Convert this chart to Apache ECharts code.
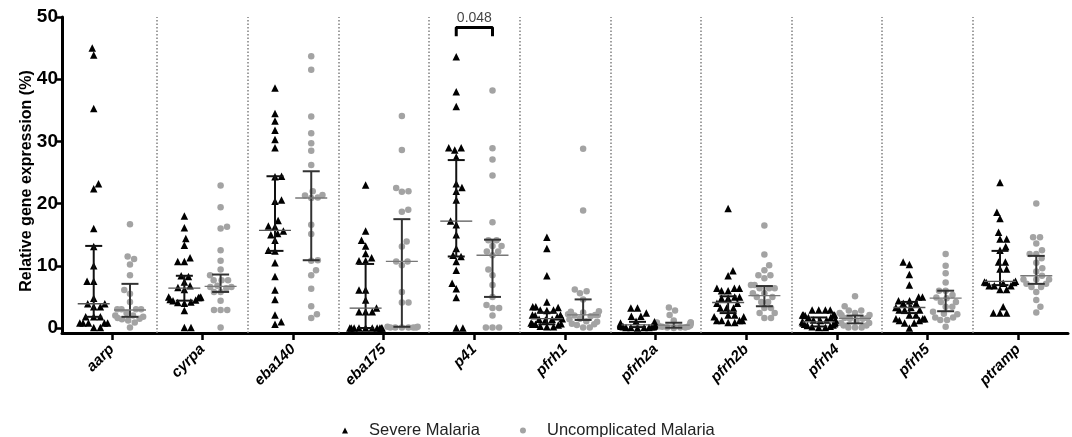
<!DOCTYPE html>
<html><head><meta charset="utf-8">
<script src="https://cdn.jsdelivr.net/npm/echarts@6/dist/echarts.min.js"></script>
<style>html,body{margin:0;padding:0;background:#fff}#c{width:1072px;height:437px}</style>
</head><body><div id="c"></div>
<script>
const genes = ['aarp','cyrpa','eba140','eba175','p41','pfrh1','pfrh2a','pfrh2b','pfrh4','pfrh5','ptramp'];
const yTicks = [0,10,20,30,40,50];

const severeValues = [
 [45.0,43.9,35.3,23.2,22.4,16.0,13.1,10.0,7.5,7.5,4.8,3.9,3.9,3.4,3.4,1.8,1.8,1.8,0.8,0.8,0.8,0.8,0.8,0.1,0.1],
 [18.0,16.1,14.4,13.3,11.3,10.7,10.7,8.4,8.3,7.4,6.8,6.5,6.2,5.0,5.0,4.9,4.9,4.6,4.5,4.4,4.2,4.1,4.0,2.8,0.1,0.1],
 [38.6,34.5,33.3,31.8,30.3,29.0,24.4,24.3,20.6,20.4,17.3,16.4,16.3,15.6,15.2,15.0,14.1,12.5,12.4,10.5,8.3,6.1,4.6,2.1,1.0,0.6],
 [23.0,15.6,14.1,13.2,12.0,11.3,10.8,10.8,6.1,6.1,4.5,3.2,2.6,2.6,2.6,0,0,0,0,0,0,0,0,0,0],
 [43.6,38.0,35.6,29.0,29.0,28.6,27.5,23.2,22.6,22.0,20.6,17.2,16.6,15.0,12.8,11.7,11.5,10.7,9.3,7.2,6.3,4.9,0,0],
 [14.6,12.8,8.4,4.2,3.4,3.4,3.3,2.9,2.9,2.8,2.1,2.1,2.0,1.8,1.5,1.4,1.4,1.3,0.8,0.7,0.6,0.6,0.5,0.3,0.2,0.2],
 [3.2,3.2,2.4,1.9,1.9,1.1,1.0,0.8,0.7,0.6,0.6,0.5,0.5,0.4,0.4,0.3,0.3,0.3,0.2,0.2,0.2,0.1,0.1,0.1,0.1,0.0],
 [19.2,9.2,8.4,6.4,6.4,6.4,6.0,6.0,5.0,5.0,4.8,4.8,4.0,4.0,3.2,3.2,3.2,2.1,2.1,1.8,1.8,1.2,1.2,1.2,1.2,0.9,0.9],
 [2.9,2.9,2.9,2.9,2.1,2.1,2.1,2.1,2.0,1.7,1.7,1.3,1.3,1.3,1.2,1.0,0.9,0.8,0.7,0.6,0.5,0.4,0.3,0.2,0.1,0.1],
 [10.6,10.2,8.6,6.9,5.0,5.0,4.4,4.4,4.0,4.0,3.3,3.3,2.9,2.9,2.9,2.1,2.1,1.5,1.5,1.5,1.2,1.2,0.8,0.8,0.0],
 [23.4,18.6,17.6,15.4,14.3,14.3,13.1,12.5,10.6,10.6,9.5,9.5,7.5,7.4,7.3,7.3,7.2,6.8,6.8,6.8,6.2,6.2,3.4,2.4,2.4,2.4]
];
const uncompValues = [
 [16.7,11.5,11.1,10.2,8.5,6.1,5.5,4.2,3.0,3.0,3.0,3.0,2.4,2.0,2.0,1.8,1.6,1.5,1.4,1.2,0.9,0.1],
 [22.9,19.4,16.3,16.0,12.5,10.8,9.4,8.5,7.7,7.7,7.7,6.8,6.6,6.6,6.4,5.8,5.8,4.4,2.9,2.9,2.9,0.1],
 [43.7,41.5,34.0,31.3,29.7,28.5,26.2,22.0,21.4,21.3,21.0,20.9,16.6,15.1,10.9,10.8,9.3,8.5,6.3,3.5,2.2,1.6],
 [34.1,28.6,22.5,22.0,21.9,19.0,18.7,13.9,13.1,10.7,10.7,10.1,5.8,4.1,4.1,0.2,0.1,0.1,0.1,0.1,0.1,0.1,0.2],
 [38.2,28.9,27.1,24.5,17.0,14.1,14.1,13.2,13.2,12.3,12.3,11.7,9.4,8.5,6.9,5.0,3.7,3.2,3.2,2.0,0.1,0.1,0.1],
 [28.8,18.9,6.2,5.9,5.6,4.6,2.7,2.6,2.5,2.2,2.1,2.1,2.0,1.9,1.5,1.4,1.1,1.0,0.7,0.6,0.5,0.1,0.1],
 [3.3,2.8,2.1,1.2,0.9,0.9,0.9,0.8,0.6,0.5,0.5,0.4,0.4,0.3,0.3,0.2,0.2,0.1,0.1,0.1,0.0],
 [16.5,11.8,10.1,9.3,8.5,8.5,8.0,6.9,6.9,6.4,6.4,6.4,5.6,5.6,5.0,5.0,4.2,4.2,3.2,3.2,2.4,2.4,1.6,1.6],
 [5.1,3.5,2.8,2.8,2.4,2.4,2.1,2.1,1.6,1.6,1.5,1.5,1.2,0.8,0.8,0.4,0.4,0.1,0.1,0.1],
 [11.9,10.0,8.8,7.3,6.0,6.0,5.3,4.9,4.8,4.2,4.2,3.4,3.4,2.6,2.3,2.2,1.7,1.7,1.3,1.3,0.2],
 [20.0,14.6,14.6,13.6,12.5,11.9,11.9,11.2,10.5,9.6,9.1,8.4,7.8,7.8,7.8,7.1,7.1,6.6,6.6,5.8,4.5,3.4,2.5]
];

const severeMedian = [3.9,6.4,15.7,3.2,17.2,1.5,0.5,4.1,1.0,3.3,7.5];
const severeQ1     = [1.8,4.4,12.4,0.0,11.5,0.6,0.15,2.4,0.25,2.4,6.9];
const severeQ3     = [13.2,8.4,24.4,10.3,27.0,2.5,1.0,5.1,1.7,4.2,12.4];
const uncompMedian = [2.9,6.7,20.9,10.7,11.7,2.1,0.45,5.2,1.55,4.8,8.4];
const uncompQ1     = [1.8,5.8,10.9,0.2,5.0,1.3,0.05,3.5,0.75,2.7,7.1];
const uncompQ3     = [7.1,8.6,25.2,17.5,14.2,4.6,0.85,6.75,2.0,6.0,11.6];

const pValueLabel = '0.048';
const pValueGene = 'p41';

// ---------- layout ----------
const W = 1072, H = 437;
const gridL = 62, gridR = 4, gridT = 17, gridB = 104;
const xMin = -0.55, xMax = 10.55, yMin = -0.8, yMax = 50;
const pxX = (W - gridL - gridR) / (xMax - xMin);
const pxY = (H - gridT - gridB) / (yMax - yMin);
const groupOff = 0.2;
const font = '"Liberation Sans", Arial, Helvetica, sans-serif';

function swarm(vals, d, maxHalf) {
  const idx = vals.map((v, i) => i).sort((a, b) => vals[a] - vals[b]);
  const placed = [], out = new Array(vals.length).fill(0);
  let flip = 1;
  idx.forEach(i => {
    const y = vals[i] * pxY;
    const near = placed.filter(p => Math.abs(p.y - y) < d);
    const cands = [0];
    near.forEach(p => { const dx = Math.sqrt(d * d - (p.y - y) ** 2); cands.push(p.x + dx, p.x - dx); });
    const ok = cands.filter(c => near.every(p => (p.x - c) ** 2 + (p.y - y) ** 2 >= d * d - 1e-6));
    ok.sort((a, b) => (Math.abs(a) - Math.abs(b)) || flip * (a - b));
    const x = ok[0]; flip = -flip;
    placed.push({ x, y }); out[i] = x;
  });
  return out.map(x => maxHalf * Math.tanh(x / maxHalf));
}

function points(groups, side) {
  const res = [];
  groups.forEach((vals, g) => {
    const offs = swarm(vals, 7, 17);
    vals.forEach((v, k) => res.push([g + side * groupOff + offs[k] / pxX, v]));
  });
  return res;
}

function statData(med, q1, q3, side) {
  return med.map((m, g) => [g + side * groupOff, m, q1[g], q3[g]]);
}

function barRenderer(stroke, medColor) {
  return function (params, api) {
    const x = api.value(0);
    const pm = api.coord([x, api.value(1)]);
    const p1 = api.coord([x, api.value(2)]);
    const p3 = api.coord([x, api.value(3)]);
    return {
      type: 'group', children: [
        { type: 'line', shape: { x1: p1[0], y1: p1[1], x2: p3[0], y2: p3[1] }, style: { stroke: stroke, lineWidth: 2 } },
        { type: 'line', shape: { x1: p1[0] - 8.5, y1: p1[1], x2: p1[0] + 8.5, y2: p1[1] }, style: { stroke: stroke, lineWidth: 2 } },
        { type: 'line', shape: { x1: p3[0] - 8.5, y1: p3[1], x2: p3[0] + 8.5, y2: p3[1] }, style: { stroke: stroke, lineWidth: 2 } },
        { type: 'line', shape: { x1: pm[0] - 16, y1: pm[1], x2: pm[0] + 16, y2: pm[1] }, style: { stroke: medColor, lineWidth: 1.3 } }
      ]
    };
  };
}

const gi = genes.indexOf(pValueGene);
const separators = genes.slice(1).map((g, i) => i + 0.5);

const chart = echarts.init(document.getElementById('c'), null, { renderer: 'canvas' });
chart.setOption({
  animation: false,
  backgroundColor: '#fff',
  grid: { left: gridL, right: gridR, top: gridT, bottom: gridB },
  xAxis: {
    type: 'value', min: xMin, max: xMax,
    axisLine: { show: true, onZero: false, lineStyle: { color: '#000', width: 3 } },
    axisTick: { show: true, customValues: genes.map((g, i) => i), length: 7, lineStyle: { color: '#000', width: 2.5 } },
    axisLabel: {
      show: true, customValues: genes.map((g, i) => i), formatter: v => genes[Math.round(v)] || '',
      rotate: 45, margin: 14, color: '#000', fontSize: 15, fontWeight: 'bold', fontStyle: 'italic', fontFamily: font
    },
    splitLine: { show: false }
  },
  yAxis: {
    type: 'value', min: yMin, max: yMax,
    axisLine: { show: true, onZero: false, lineStyle: { color: '#000', width: 3 } },
    axisTick: { show: true, customValues: yTicks, length: 6, lineStyle: { color: '#000', width: 2.5 } },
    axisLabel: { show: true, customValues: yTicks, margin: 4, color: '#000', fontSize: 19, fontWeight: 'bold', fontFamily: font },
    splitLine: { show: false }
  },
  legend: {
    left: 337, top: 417, itemWidth: 6, itemHeight: 6, itemGap: 40,
    data: [{ name: 'Severe Malaria', icon: 'triangle' }, { name: 'Uncomplicated Malaria', icon: 'circle' }],
    textStyle: { fontSize: 16.5, color: '#222', fontFamily: font, padding: [0, 0, 0, 16] }
  },
  graphic: [{
    type: 'text', x: 27, y: 181, rotation: Math.PI / 2,
    style: { text: 'Relative gene expression (%)', font: 'bold 16px ' + font, fill: '#000', textAlign: 'center', textVerticalAlign: 'middle' }
  }],
  series: [
    {
      type: 'line', name: 'bracket', silent: true, symbol: 'none', z: 5,
      data: [[gi - groupOff, 46.9], [gi - groupOff, 48.3], [gi + groupOff, 48.3], [gi + groupOff, 46.9]],
      lineStyle: { color: '#000', width: 3 },
      markLine: {
        silent: true, symbol: ['none', 'none'], label: { show: false },
        lineStyle: { color: '#808080', type: [1.5, 2], width: 1.5 },
        data: separators.map(x => ({ xAxis: x }))
      }
    },
    {
      type: 'scatter', name: 'pval', silent: true, symbolSize: 0,
      data: [[gi, 49.8]],
      label: { show: true, position: 'inside', formatter: pValueLabel, fontSize: 14, color: '#111', fontFamily: font }
    },
    {
      type: 'scatter', name: 'Uncomplicated Malaria', symbol: 'circle', symbolSize: 6.5,
      itemStyle: { color: '#a3a3a3', opacity: 1 }, z: 3,
      data: points(uncompValues, 1)
    },
    {
      type: 'scatter', name: 'Severe Malaria', symbol: 'triangle', symbolSize: 7.5,
      itemStyle: { color: '#000', opacity: 1 }, z: 3,
      data: points(severeValues, -1)
    },
    {
      type: 'custom', name: 'severeBars', z: 6, silent: true,
      renderItem: barRenderer('#111', '#555'),
      encode: { x: 0, y: [1, 2, 3] },
      data: statData(severeMedian, severeQ1, severeQ3, -1)
    },
    {
      type: 'custom', name: 'uncompBars', z: 6, silent: true,
      renderItem: barRenderer('#333', '#777'),
      encode: { x: 0, y: [1, 2, 3] },
      data: statData(uncompMedian, uncompQ1, uncompQ3, 1)
    }
  ]
});
</script>
</body></html>
